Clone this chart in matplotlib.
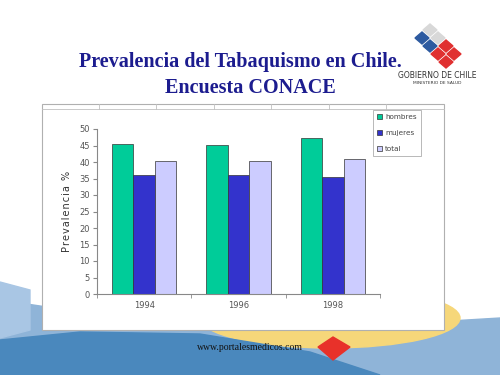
import numpy as np
import matplotlib.pyplot as plt
from matplotlib.patches import Rectangle, Polygon, Ellipse

years = ['1994', '1996', '1998']
hombres = [45.4, 45.2, 47.2]
mujeres = [36.2, 36.0, 35.5]
total = [40.3, 40.4, 40.8]
series_names = ['hombres', 'mujeres', 'total']
series_colors = ['#00cc99', '#3333cc', '#ccccff']

W, H = 500, 375
fig = plt.figure(figsize=(5, 3.75), dpi=100)
fig.patch.set_facecolor('white')

def fx(px):
    return px / W

def fy(py):
    return 1 - py / H

# slide background at the bottom
bg = fig.add_axes([0, 0, 1, 1], zorder=-10)
bg.set_xlim(0, W)
bg.set_ylim(H, 0)
bg.axis('off')
bg.add_patch(Polygon([(0, 300), (120, 318), (300, 330), (500, 318), (500, 375), (0, 375)],
                     closed=True, color='#8fb4d8'))
bg.add_patch(Ellipse((330, 318), 260, 60, color='#f6d77a'))
bg.add_patch(Polygon([(0, 340), (80, 332), (200, 334), (310, 352), (380, 375), (0, 375)],
                     closed=True, color='#4a88bd'))
bg.add_patch(Polygon([(0, 282), (30, 290), (30, 330), (0, 338)], closed=True, color='#a9c6e4'))

# white chart panel
bg.add_patch(Rectangle((42, 104), 402, 226, facecolor='white', edgecolor='#b0b0b0', lw=0.8))
bg.plot([42, 444], [109, 109], color='#c0c0c0', lw=0.6)
for xv in [99, 156, 214, 271, 329, 386]:
    bg.plot([xv, xv], [104, 109], color='#c0c0c0', lw=0.6)

fig.text(0.48, fy(62), 'Prevalencia del Tabaquismo en Chile.', ha='center', va='center',
         family='Liberation Serif', fontweight='bold', fontsize=14.5, color='#1c1c8f')
fig.text(0.5, fy(88), 'Encuesta CONACE', ha='center', va='center',
         family='Liberation Serif', fontweight='bold', fontsize=14.5, color='#1c1c8f')

# logo
fig.text(fx(437), fy(76), 'GOBIERNO DE CHILE', ha='center', va='center',
         fontsize=5.5, color='#333333')
fig.text(fx(437), fy(83), 'MINISTERIO DE SALUD', ha='center', va='center',
         fontsize=3.2, color='#333333')
for cx, cy, col in [(430, 30, '#d8d8d8'), (438, 38, '#d8d8d8'), (422, 38, '#2d5aa0'),
                    (430, 46, '#2d5aa0'), (446, 46, '#e03030'), (438, 54, '#e03030'),
                    (454, 54, '#e03030'), (446, 62, '#e03030')]:
    bg.add_patch(Polygon([(cx, cy - 6), (cx + 7, cy), (cx, cy + 6), (cx - 7, cy)],
                         closed=True, color=col))

fig.text(fx(250), fy(348), 'www.portalesmedicos.com', ha='center', va='center',
         family='Liberation Serif', fontsize=7, color='#111111')
bg.add_patch(Polygon([(318, 347), (333, 337), (350, 347), (333, 360)], closed=True, color='#e8312a'))

# chart
ax = fig.add_axes([fx(97), fy(294), fx(380 - 97), (294 - 129) / H])
x = np.arange(len(years))
bw = 0.227
for i, (vals, name, col) in enumerate(zip([hombres, mujeres, total], series_names, series_colors)):
    ax.bar(x + (i - 1) * bw, vals, bw, color=col, edgecolor='#333333', linewidth=0.5, label=name)

ax.set_xlim(-0.5, 2.5)
ax.set_ylim(0, 50)
ax.set_yticks(range(0, 51, 5))
ax.set_xticks(x)
ax.set_xticklabels(years)
ax.set_xticks([-0.5, 0.5, 1.5, 2.5], minor=True)
ax.tick_params(axis='x', which='major', length=0, labelsize=6, colors='#555555', pad=5)
ax.tick_params(axis='x', which='minor', length=3, color='#888888')
ax.tick_params(axis='y', length=3, labelsize=6, colors='#555555', pad=2)
ax.tick_params(axis='y', color='#888888')
for s in ['top', 'right']:
    ax.spines[s].set_visible(False)
for s in ['left', 'bottom']:
    ax.spines[s].set_color('#888888')
    ax.spines[s].set_linewidth(0.8)
ax.set_facecolor('none')
ax.set_ylabel('\u200a'.join('Prevalencia %'), fontsize=7, color='#333333', labelpad=5)

leg = fig.legend(loc='upper left', bbox_to_anchor=(fx(373), fy(110)), fontsize=5.2,
                 frameon=True, fancybox=False, edgecolor='#999999', handlelength=0.7,
                 handleheight=0.7, labelspacing=1.35, borderpad=0.6, handletextpad=0.4,
                 borderaxespad=0)
leg.get_frame().set_linewidth(0.6)
for t in leg.get_texts():
    t.set_color('#444444')

fig.savefig('out.png', dpi=100)
